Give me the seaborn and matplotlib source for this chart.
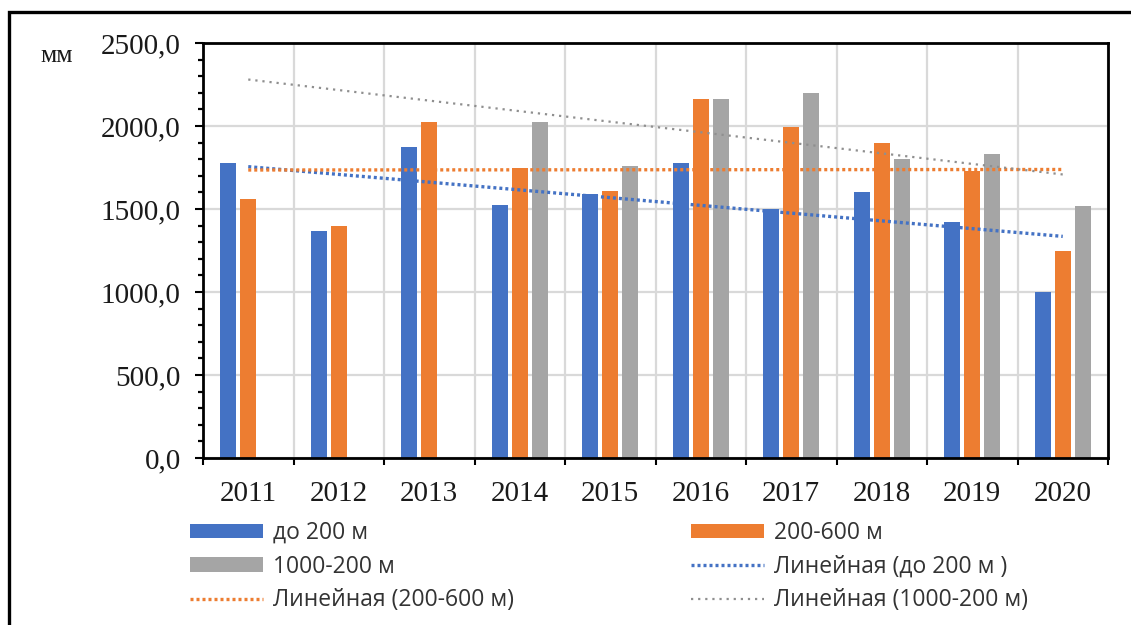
import numpy as np
import pandas as pd
import matplotlib
matplotlib.use("Agg")
import matplotlib.pyplot as plt
from matplotlib.lines import Line2D
from matplotlib.patches import Patch, Rectangle
from matplotlib.ticker import MultipleLocator, FixedLocator, FuncFormatter
import seaborn as sns

# ---------------- data ----------------
years = ["2011", "2012", "2013", "2014", "2015", "2016", "2017", "2018", "2019", "2020"]
series_names = ["до 200 м", "200-600 м", "1000-200 м"]
vals_low = [1780, 1370, 1875, 1525, 1590, 1775, 1500, 1600, 1420, 1000]
vals_mid = [1560, 1400, 2025, 1750, 1610, 2160, 1995, 1895, 1730, 1250]
vals_high = [np.nan, np.nan, np.nan, 2025, 1760, 2160, 2200, 1800, 1830, 1520]
# linear trend lines (start at 2011, end at 2020)
trend_low = [1755, 1335]
trend_mid = [1735, 1738]
trend_high = [2280, 1708]
trend_labels = ["Линейная (до 200 м )", "Линейная (200-600 м)", "Линейная (1000-200 м)"]
y_ticks = [0, 500, 1000, 1500, 2000, 2500]
y_unit = "мм"

colors = ["#4472C4", "#ED7D31", "#A5A5A5"]

df = pd.DataFrame({
    "year": years * 3,
    "series": [s for s in series_names for _ in years],
    "value": vals_low + vals_mid + vals_high,
}).dropna()

# ---------------- figure ----------------
sns.set_theme(style="white")
plt.rcParams["font.family"] = ["Liberation Serif", "DejaVu Serif"]

W, H = 1131, 625
fig = plt.figure(figsize=(W / 100, H / 100), dpi=100)
ax = fig.add_axes([203 / W, 1 - 458 / H, (1108 - 203) / W, (458 - 43) / H])

sns.barplot(data=df, x="year", y="value", hue="series", order=years,
            hue_order=series_names, palette=colors, saturation=1,
            width=0.663, gap=0.2, linewidth=0, legend=False, ax=ax, zorder=2)

trend_styles = [
    dict(color=colors[0], lw=2.4, ls=(0, (0.9, 0.9))),
    dict(color=colors[1], lw=2.4, ls=(0, (0.9, 0.9))),
    dict(color="#8f8f8f", lw=1.6, ls=(0, (1, 2.2))),
]
xpos = [0, len(years) - 1]
for tr, st in zip([trend_low, trend_mid, trend_high], trend_styles):
    sns.lineplot(x=xpos, y=tr, ax=ax, color=st["color"], linewidth=st["lw"],
                 linestyle=st["ls"], zorder=3)

ax.set_xlim(-0.5, len(years) - 0.5)
ax.set_ylim(0, 2500)
ax.set_xlabel("")
ax.set_ylabel("")

ax.yaxis.set_major_locator(FixedLocator(y_ticks))
ax.yaxis.set_minor_locator(MultipleLocator(100))
ax.yaxis.set_major_formatter(FuncFormatter(lambda v, p: f"{v:.1f}".replace(".", ",")))
ax.xaxis.set_minor_locator(FixedLocator(np.arange(-0.5, len(years), 1.0)))

ax.grid(False)
ax.grid(axis="y", which="major", color="#D9D9D9", linewidth=1.6, zorder=0)
ax.grid(axis="x", which="minor", color="#D9D9D9", linewidth=1.6, zorder=0)
ax.set_axisbelow(True)

for sp in ax.spines.values():
    sp.set_visible(True)
    sp.set_color("black")
    sp.set_linewidth(2.0)

ax.tick_params(axis="y", which="major", direction="out", length=5.5, width=1.5,
               left=True, pad=10.5, labelsize=21, labelcolor="#1a1a1a", color="black")
ax.tick_params(axis="y", which="minor", direction="out", length=3.5, width=1.6,
               left=True, color="black")
ax.tick_params(axis="x", which="major", length=0, pad=16.5, labelsize=21, labelcolor="#1a1a1a")
ax.tick_params(axis="x", which="minor", direction="out", length=5, width=1.5,
               bottom=True, color="black")

fig.text(40 / W, 1 - 56 / H, y_unit, fontsize=18.5, color="#1a1a1a", va="center", ha="left")

# outer frame (top and left edges visible)
fig.patches.append(Rectangle((9 / W, -0.1), 1.2, (1 - 12 / H) + 0.1,
                             transform=fig.transFigure, fill=False,
                             edgecolor="black", linewidth=2.4, zorder=10))

# ---------------- legend (two columns, row-major order) ----------------
lfont = dict(family=["Open Sans", "DejaVu Sans"], size=16.5)
bar_h = [Patch(facecolor=c, edgecolor="none") for c in colors]
line_h = [Line2D([], [], color=st["color"], linewidth=st["lw"], linestyle=st["ls"])
          for st in trend_styles]

col1_h = [bar_h[0], bar_h[2], line_h[1]]
col1_l = [series_names[0], series_names[2], trend_labels[1]]
col2_h = [bar_h[1], line_h[0], line_h[2]]
col2_l = [series_names[1], trend_labels[0], trend_labels[2]]

fs_px = lfont["size"] / 72 * 100
common = dict(frameon=False, loc="upper left", borderpad=0, borderaxespad=0,
              handlelength=73 / fs_px, handleheight=14 / fs_px, handletextpad=10 / fs_px,
              labelspacing=0.42, prop=lfont, labelcolor="#333333")
fig.legend(col1_h, col1_l, bbox_to_anchor=(190 / W, 1 - 521 / H), **common)
fig.legend(col2_h, col2_l, bbox_to_anchor=(691 / W, 1 - 521 / H), **common)

fig.savefig("out.png", dpi=100)
